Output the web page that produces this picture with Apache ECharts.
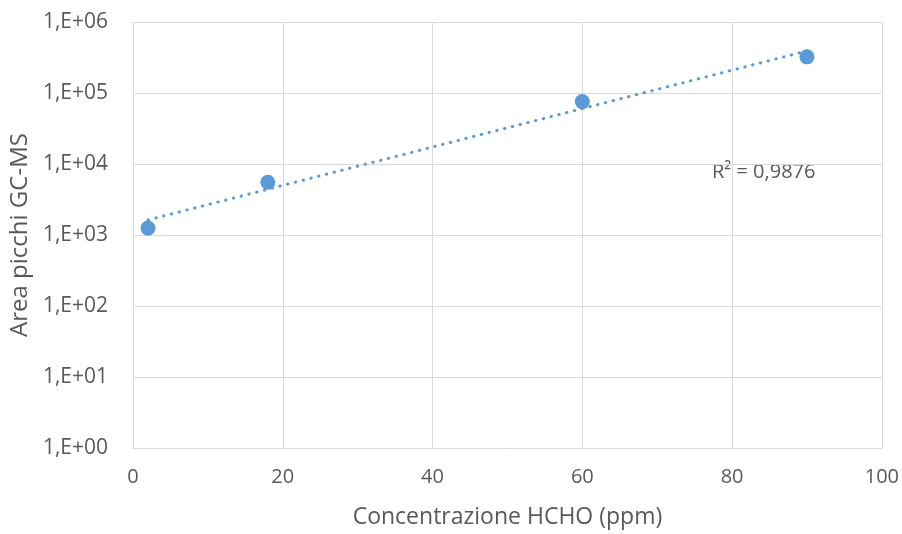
<!DOCTYPE html>
<html>
<head>
<meta charset="utf-8">
<script src="https://cdn.jsdelivr.net/npm/echarts@6/dist/echarts.min.js"></script>
<style>
  html, body { margin: 0; padding: 0; background: #fff; }
  #chart { width: 902px; height: 534px; }
</style>
</head>
<body>
<div id="chart"></div>
<script>
// Calibration points: HCHO concentration (ppm) vs GC-MS peak area
const concentrations = [2, 18, 60, 90];
const peakAreas = [1250, 5540, 75700, 323000];
const rSquaredLabel = 'R² = 0,9876';
const xTicks = [0, 20, 40, 60, 80, 100];
const yTicks = [1, 10, 100, 1000, 10000, 100000, 1000000];

// Exponential trendline: least-squares fit of log10(area) against concentration
function expFit(xs, ys) {
  const ly = ys.map(v => Math.log10(v));
  const n = xs.length;
  const mx = xs.reduce((a, b) => a + b, 0) / n;
  const my = ly.reduce((a, b) => a + b, 0) / n;
  let sxx = 0, sxy = 0;
  for (let i = 0; i < n; i++) {
    sxx += (xs[i] - mx) * (xs[i] - mx);
    sxy += (xs[i] - mx) * (ly[i] - my);
  }
  const b = sxy / sxx;
  const a = my - b * mx;
  return x => Math.pow(10, a + b * x);
}
const fit = expFit(concentrations, peakAreas);
const xMin = concentrations[0], xMax = concentrations[concentrations.length - 1];
const trend = [];
for (let i = 0; i <= 60; i++) {
  const x = xMin + (xMax - xMin) * i / 60;
  trend.push([x, fit(x)]);
}

const textColor = '#595959';
const markColor = '#5B9BD5';
const fontFamily = 'Open Sans, Noto Sans, sans-serif';

const chart = echarts.init(document.getElementById('chart'));
chart.setOption({
  animation: false,
  grid: { left: 133, right: 20, top: 22, bottom: 84 },
  xAxis: {
    type: 'value',
    min: xTicks[0], max: xTicks[xTicks.length - 1], interval: 20,
    name: 'Concentrazione HCHO (ppm)',
    nameLocation: 'middle', nameGap: 58,
    nameTextStyle: { color: textColor, fontSize: 23, fontFamily },
    axisLine: { show: true, lineStyle: { color: '#d9d9d9' } },
    axisTick: { show: false },
    axisLabel: { color: textColor, fontSize: 20, fontFamily, margin: 19 },
    splitLine: { show: true, lineStyle: { color: '#d9d9d9', width: 1 } }
  },
  yAxis: {
    type: 'log',
    logBase: 10,
    min: yTicks[0], max: yTicks[yTicks.length - 1],
    name: 'Area picchi GC-MS',
    nameLocation: 'middle', nameGap: 101,
    nameTextStyle: { color: textColor, fontSize: 24, fontFamily },
    axisLine: { show: false },
    axisTick: { show: false },
    axisLabel: {
      color: textColor, fontSize: 21, fontFamily, margin: 25,
      formatter: v => '1,E+' + String(Math.round(Math.log10(v))).padStart(2, '0')
    },
    splitLine: { show: true, lineStyle: { color: '#d9d9d9', width: 1 } }
  },
  series: [
    {
      type: 'line',
      data: trend,
      showSymbol: false,
      symbol: 'none',
      lineStyle: { color: markColor, width: 3, type: [0.5, 7.5], cap: 'round' },
      z: 2,
      silent: true
    },
    {
      type: 'scatter',
      data: concentrations.map((x, i) => [x, peakAreas[i]]),
      symbol: 'circle',
      symbolSize: 15,
      itemStyle: { color: markColor, opacity: 1 },
      z: 3
    }
  ],
  graphic: [{
    type: 'text',
    left: 712, top: 162,
    style: { text: rSquaredLabel, fill: textColor, fontSize: 20, fontFamily }
  }]
});
</script>
</body>
</html>
